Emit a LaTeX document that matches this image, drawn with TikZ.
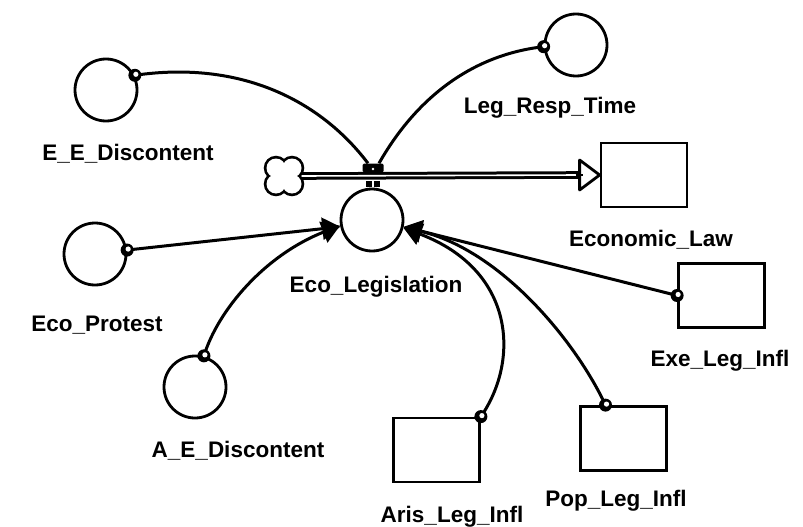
\documentclass[tikz,border=0pt]{standalone}
\usepackage{fontspec}
\setmainfont{Liberation Sans}
\usetikzlibrary{arrows.meta,calc}
\begin{document}
\begin{tikzpicture}[x=1pt,y=-1pt,
  aux/.style={circle,draw,line width=2.8pt,minimum size=62pt,inner sep=0pt},
  stock/.style={rectangle,draw,line width=2.8pt,inner sep=0pt,minimum width=86pt,minimum height=64pt},
  lbl/.style={anchor=base,inner sep=0pt,font=\bfseries\fontsize{22.5}{27}\selectfont},
  link/.style={line width=3pt},
  linkarrow/.style={link,-{Triangle[length=18pt,width=22pt]}},
  srcdot/.style={circle,fill=black,inner sep=0pt,minimum size=13pt,
    path picture={\fill[white] ([xshift=1pt,yshift=1pt]path picture bounding box.center) circle (2.6pt);}},
  pipe/.style={line width=3pt,double=white,double distance=1.6pt},
  valvebox/.style={rectangle,fill=black,rounded corners=1.5pt,minimum width=21pt,minimum height=9pt,inner sep=0pt},
]
\useasboundingbox (0,0) rectangle (803,527);

% converters and stocks
\node[aux] (ee)  at (106,90)  {};
\node[aux] (lrt) at (576,45)  {};
\node[aux] (ep)  at (95,254)  {};
\node[aux] (ae)  at (195,387) {};
\node[aux] (eco) at (372,220) {};
\node[stock] (law)  at (644,175)   {};
\node[stock] (exe)  at (721.5,295.5) {};
\node[stock] (aris) at (436.5,450) {};
\node[stock] (pop)  at (623.5,438.5) {};

% labels
\node[lbl] at (128,160) {E\_E\_Discontent};
\node[lbl] at (550,113) {Leg\_Resp\_Time};
\node[lbl] at (651,246) {Economic\_Law};
\node[lbl] at (376,292) {Eco\_Legislation};
\node[lbl] at (97,331)  {Eco\_Protest};
\node[lbl] at (238,457) {A\_E\_Discontent};
\node[lbl] at (720,366) {Exe\_Leg\_Infl};
\node[lbl] at (452,522) {Aris\_Leg\_Infl};
\node[lbl] at (616,506) {Pop\_Leg\_Infl};

% cloud source of the flow
\node[inner sep=0pt,minimum size=36pt] (cloud) at (284,176) {};
\foreach \dx/\dy in {-8/-8,8/-8,-8/8,8/8}
  \draw[line width=5.4pt] ($(cloud.center)+(\dx,\dy)$) circle (9.5pt);
\foreach \dx/\dy in {-8/-8,8/-8,-8/8,8/8}
  \fill[white] ($(cloud.center)+(\dx,\dy)$) circle (9.5pt);
\fill[white] ($(cloud.center)+(-9,-9)$) rectangle ($(cloud.center)+(9,9)$);

% flow pipe with open head into Economic_Law
\coordinate (headback) at ($(law.west)+(-20,0)$);
\draw[pipe] (cloud.east) -- (headback);
\draw[line width=2.8pt,fill=white,line join=round]
  ($(headback)+(0,-15)$) -- (law.west) -- ($(headback)+(0,15)$) -- cycle;
\draw[line width=2pt] ($(headback)+(-4,0)$) -- ($(headback)+(3,0)$);

% valve and its stem down to Eco_Legislation
\node[valvebox] (valve) at (373,168) {};
\fill[white] (373,169) circle (1.4pt);
\fill (366,181) rectangle (372,187);
\fill (374,181) rectangle (380,187);

% connectors
\draw[link] (ee.27)   .. controls (240,60)  and (320,100) .. ([xshift=-5pt]valve.north);
\draw[link] (lrt.183) .. controls (470,55)  and (415,100) .. ([xshift=6pt]valve.north);
\draw[linkarrow] (ep.7)  -- (eco.192);
\draw[linkarrow] (ae.74) .. controls (218,310) and (265,255) .. (eco.190);
\draw[linkarrow] (exe.west) -- (eco.348);
\draw[linkarrow] (aris.north east) .. controls (520,360) and (515,270) .. (eco.346);
\draw[linkarrow] ([xshift=-18pt]pop.north) .. controls (575,340) and (500,250) .. (eco.347);

% connector origins
\node[srcdot] at (ee.27) {};
\node[srcdot] at (lrt.183) {};
\node[srcdot] at (ep.7) {};
\node[srcdot] at (ae.74) {};
\node[srcdot] at (exe.west) {};
\node[srcdot] at (aris.north east) {};
\node[srcdot] at ([xshift=-18pt]pop.north) {};
\end{tikzpicture}
\end{document}
